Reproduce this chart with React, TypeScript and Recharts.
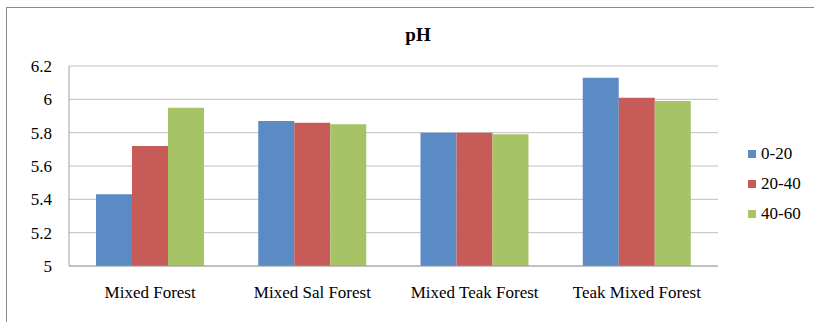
import { BarChart, Bar, XAxis, YAxis, CartesianGrid } from "recharts";

const CATEGORIES = ["Mixed Forest", "Mixed Sal Forest", "Mixed Teak Forest", "Teak Mixed Forest"];
const DEPTH_0_20 = [5.43, 5.87, 5.8, 6.13];
const DEPTH_20_40 = [5.72, 5.86, 5.8, 6.01];
const DEPTH_40_60 = [5.95, 5.85, 5.79, 5.99];
const Y_TICKS = [5, 5.2, 5.4, 5.6, 5.8, 6, 6.2];

const SERIES = [
  { key: "d1", name: "0-20", color: "#5B8BC5", values: DEPTH_0_20 },
  { key: "d2", name: "20-40", color: "#C65B57", values: DEPTH_20_40 },
  { key: "d3", name: "40-60", color: "#A6C366", values: DEPTH_40_60 },
];

const FONT = "'Times New Roman', Times, 'Nimbus Roman', 'Noto Serif', FreeSerif, Tinos, 'Liberation Serif', serif";

const data = CATEGORIES.map((name, i) => {
  const row: Record<string, string | number> = { name };
  SERIES.forEach((s) => (row[s.key] = s.values[i]));
  return row;
});

export default function App() {
  return (
    <div
      style={{
        position: "absolute",
        left: 0,
        top: 0,
        width: 814,
        height: 322,
        overflow: "hidden",
        background: "#fff",
        fontFamily: FONT,
      }}
    >
      <div
        style={{
          position: "absolute",
          left: 6,
          top: 7,
          width: 820,
          height: 330,
          borderLeft: "1px solid #8a8a8a",
          borderTop: "1px solid #8a8a8a",
        }}
      />
      <div
        style={{
          position: "absolute",
          left: 368,
          top: 25,
          width: 100,
          textAlign: "center",
          fontSize: 19,
          lineHeight: "20px",
          fontWeight: "bold",
        }}
      >
        pH
      </div>
      <div style={{ position: "absolute", left: 0, top: 0 }}>
        <BarChart
          width={814}
          height={322}
          data={data}
          margin={{ top: 66, right: 96, left: 0, bottom: 0 }}
          barCategoryGap={27}
          barGap={0}
          style={{ fontFamily: FONT }}
        >
          <CartesianGrid horizontal vertical={false} stroke="#c0c0c0" />
          <XAxis
            dataKey="name"
            height={56}
            stroke="#a0a0a0"
            tickLine={false}
            tickSize={6}
            tickMargin={14}
            tick={{ fontSize: 17, fontFamily: FONT, fill: "#000" }}
            interval={0}
          />
          <YAxis
            width={69}
            domain={[5, 6.2]}
            ticks={Y_TICKS}
            stroke="#a0a0a0"
            tickLine={false}
            tickSize={6}
            tickMargin={11}
            tick={{ fontSize: 17, fontFamily: FONT, fill: "#000" }}
            allowDataOverflow
          />
          {SERIES.map((s) => (
            <Bar key={s.key} dataKey={s.key} name={s.name} fill={s.color} isAnimationActive={false} />
          ))}
        </BarChart>
      </div>
      {SERIES.map((s, i) => (
        <div
          key={s.key}
          style={{
            position: "absolute",
            left: 748,
            top: 154 + i * 30 - 10,
            height: 20,
            display: "flex",
            alignItems: "center",
            fontSize: 17,
            lineHeight: "20px",
          }}
        >
          <span style={{ display: "inline-block", width: 8, height: 8, background: s.color, marginRight: 5 }} />
          {s.name}
        </div>
      ))}
    </div>
  );
}
